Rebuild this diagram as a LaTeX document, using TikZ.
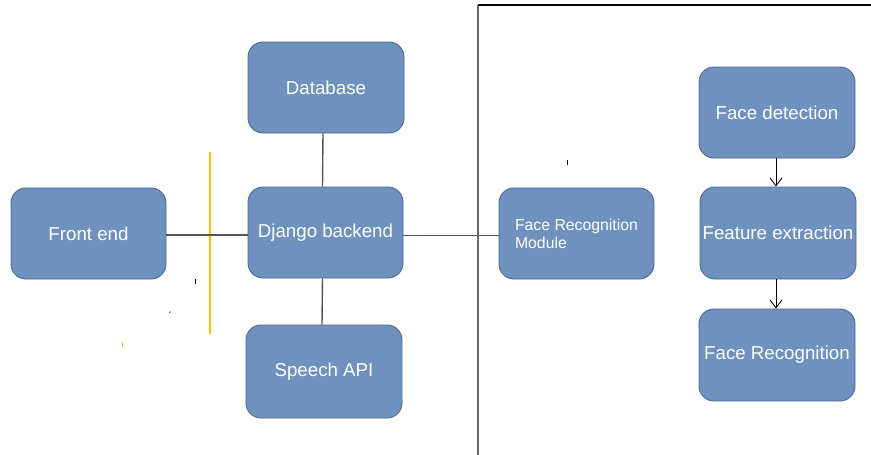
\documentclass[tikz,border=0pt]{standalone}
\usepackage{fontspec}
\setmainfont{Liberation Sans}
\usetikzlibrary{arrows.meta,calc}
\definecolor{boxfill}{RGB}{111,145,190}
\definecolor{boxedge}{RGB}{74,104,148}
\definecolor{linkgray}{RGB}{85,85,85}
\definecolor{markyellow}{RGB}{255,192,0}
\begin{document}
\begin{tikzpicture}[x=1pt,y=-1pt,
  box/.style={draw=boxedge, line width=0.9pt, fill=boxfill, rounded corners=15pt,
    minimum width=155pt, minimum height=91pt, text=white, inner sep=0pt,
    font=\fontsize{18.7}{21}\selectfont},
  link/.style={draw=linkgray, line width=1.4pt},
  flow/.style={draw=black, line width=0.8pt, -{Straight Barb[length=8pt,width=12pt]}},
  frame/.style={line width=1.3pt}]
\useasboundingbox (0,0) rectangle (871,455);

% frame of the recognition part
\draw[frame, draw=gray!80!black] (478,455) -- (478,5);
\draw[frame, draw=black] (478,5) -- (871,5);

% yellow separator and stray marks
\draw[markyellow, line width=1.2pt] (210,152) -- (210,334);
\draw[markyellow, line width=1pt] (122,342) -- (122,347);
\draw[black, line width=0.8pt] (195,279) -- (195,284);
\draw[black, line width=0.8pt] (567,160) -- (567,165);
\draw[black, line width=0.6pt] (169.5,313) -- (170.5,311.5);

% nodes
\node[box, minimum width=156pt] (db) at (326,87.5) {Database};
\node[box] (fe) at (88.5,233.5) {Front end};
\node[box] (dj) at (325.5,232.5) {Django backend};
\node[box, minimum width=156pt, minimum height=93pt] (sp) at (324,371.5) {Speech API};
\node[box, align=left, font=\fontsize{15.8}{18}\selectfont] (frm) at (576.5,233.5) {Face Recognition\\Module};
\node[box, minimum width=156pt] (fd) at (777,112.5) {Face detection};
\node[box, minimum width=156pt, minimum height=92pt] (fx) at (778,233) {Feature extraction};
\node[box, minimum width=156pt, minimum height=92pt] (fr) at (777,355) {Face Recognition};

% connectors
\draw[link] ($(fe.east)+(0,1.5)$) -- ($(dj.west)+(0,2.5)$);
\draw[link] ($(dj.east)+(0,3)$) -- ($(frm.west)+(0,2)$);
\draw[link] ($(db.south)+(-3,0)$) -- ($(dj.north)+(-3,0)$);
\draw[link] ($(dj.south)+(-3,0)$) -- ($(sp.north)+(-2,0)$);
\draw[flow] ($(fd.south)+(-1,0)$) -- ($(fx.north)+(-2,0)$);
\draw[flow] ($(fx.south)+(-2,0)$) -- ($(fr.north)+(-1,0)$);
\end{tikzpicture}
\end{document}
